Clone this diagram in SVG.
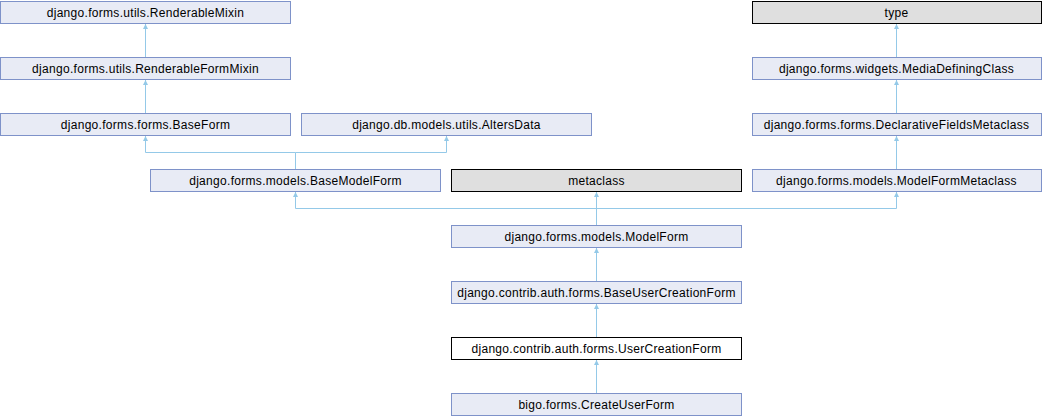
<svg xmlns="http://www.w3.org/2000/svg" width="1043" height="416" viewBox="0 0 1043 416">
<style>
.n rect{fill:#e8ebf5;stroke:#7e92c9;stroke-width:1}
.g rect{fill:#dfdfdf;stroke:#000;stroke-width:1}
.w rect{fill:#fff;stroke:#000;stroke-width:1}
text{font-family:"Liberation Sans",Arial,sans-serif;font-size:12px;letter-spacing:0.3px;fill:#000;text-anchor:middle}
.e{fill:none;stroke:#94c9e8;stroke-width:1}
</style>
<defs>
<marker id="a" viewBox="0 0 10 10" refX="10" refY="5" markerWidth="5" markerHeight="6" orient="auto" markerUnits="userSpaceOnUse">
<path d="M0,0 L10,5 L0,10 z" fill="#94c9e8"/>
</marker>
</defs>
<g id="edges">
<path class="e" d="M145.5,57 V24" marker-end="url(#a)"/>
<path class="e" d="M145.5,113 V80" marker-end="url(#a)"/>
<path class="e" d="M295.5,169 V152.5 H145.5 V136" marker-end="url(#a)"/>
<path class="e" d="M295.5,152.5 H446.5 V136" marker-end="url(#a)"/>
<path class="e" d="M896.5,57 V24" marker-end="url(#a)"/>
<path class="e" d="M896.5,113 V80" marker-end="url(#a)"/>
<path class="e" d="M896.5,169 V136" marker-end="url(#a)"/>
<path class="e" d="M596.5,225 V192" marker-end="url(#a)"/>
<path class="e" d="M596.5,208.5 H295.5 V192" marker-end="url(#a)"/>
<path class="e" d="M596.5,208.5 H896.5 V192" marker-end="url(#a)"/>
<path class="e" d="M596.5,281 V248" marker-end="url(#a)"/>
<path class="e" d="M596.5,337 V304" marker-end="url(#a)"/>
<path class="e" d="M596.5,393 V360" marker-end="url(#a)"/>
</g>
<g id="RenderableMixin" class="n"><rect x="0.5" y="1.5" width="290" height="22"/><text x="145.5" y="17">django.forms.utils.RenderableMixin</text></g>
<g id="RenderableFormMixin" class="n"><rect x="0.5" y="57.5" width="290" height="22"/><text x="145.5" y="73">django.forms.utils.RenderableFormMixin</text></g>
<g id="BaseForm" class="n"><rect x="0.5" y="113.5" width="290" height="22"/><text x="145.5" y="129">django.forms.forms.BaseForm</text></g>
<g id="AltersData" class="n"><rect x="301.5" y="113.5" width="290" height="22"/><text x="446.5" y="129">django.db.models.utils.AltersData</text></g>
<g id="BaseModelForm" class="n"><rect x="150.5" y="169.5" width="290" height="22"/><text x="295.5" y="185">django.forms.models.BaseModelForm</text></g>
<g id="metaclass" class="g"><rect x="451.5" y="169.5" width="290" height="22"/><text x="596.5" y="185">metaclass</text></g>
<g id="type" class="g"><rect x="752.5" y="1.5" width="289" height="22"/><text x="896.5" y="17">type</text></g>
<g id="MediaDefiningClass" class="n"><rect x="752.5" y="57.5" width="289" height="22"/><text x="896.5" y="73">django.forms.widgets.MediaDefiningClass</text></g>
<g id="DeclarativeFieldsMetaclass" class="n"><rect x="752.5" y="113.5" width="289" height="22"/><text x="896.5" y="129">django.forms.forms.DeclarativeFieldsMetaclass</text></g>
<g id="ModelFormMetaclass" class="n"><rect x="752.5" y="169.5" width="289" height="22"/><text x="896.5" y="185">django.forms.models.ModelFormMetaclass</text></g>
<g id="ModelForm" class="n"><rect x="451.5" y="225.5" width="290" height="22"/><text x="596.5" y="241">django.forms.models.ModelForm</text></g>
<g id="BaseUserCreationForm" class="n"><rect x="451.5" y="281.5" width="290" height="22"/><text x="596.5" y="297">django.contrib.auth.forms.BaseUserCreationForm</text></g>
<g id="UserCreationForm" class="w"><rect x="451.5" y="337.5" width="290" height="22"/><text x="596.5" y="353">django.contrib.auth.forms.UserCreationForm</text></g>
<g id="CreateUserForm" class="n"><rect x="451.5" y="393.5" width="290" height="22"/><text x="596.5" y="409">bigo.forms.CreateUserForm</text></g>
</svg>
